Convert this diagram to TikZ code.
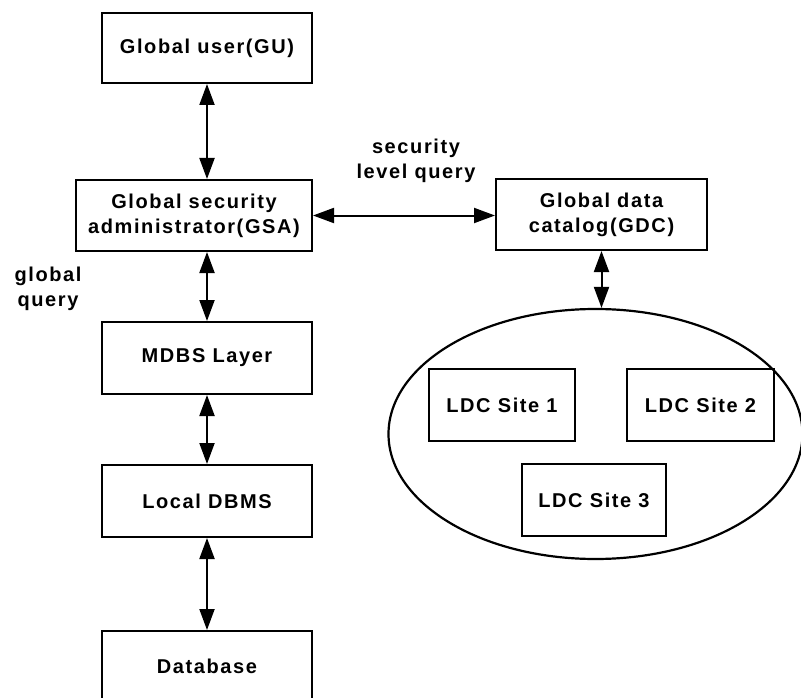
\documentclass[tikz,border=0pt]{standalone}
\usepackage{fontspec}
\setmainfont{Liberation Sans}[LetterSpace=8]
\usetikzlibrary{arrows.meta,shapes.geometric}
\begin{document}
\begin{tikzpicture}[x=1pt,y=-1pt,
  txt/.style={font=\bfseries\fontsize{20}{25}\selectfont,align=center,inner sep=0pt},
  box/.style={txt,draw,line width=2pt},
  link/.style={line width=2pt,{Triangle[length=21pt,width=15pt]}-{Triangle[length=21pt,width=15pt]}}]
\useasboundingbox (0,0) rectangle (801,698);
\clip (0,0) rectangle (801,698);

% left column: query path down to the data
\node[box,minimum width=210pt,minimum height=70pt] (gu)  at (207,48)    {Global user(GU)};
\node[box,minimum width=236pt,minimum height=71pt] (gsa) at (194,215.5) {Global security\\administrator(GSA)};
\node[box,minimum width=210pt,minimum height=72pt] (mdbs) at (207,358)  {MDBS Layer};
\node[box,minimum width=210pt,minimum height=72pt] (ldbms) at (207,501) {Local DBMS};
\node[box,minimum width=210pt,minimum height=71pt] (db)  at (207,666.5) {Database};

% right side: catalogs
\node[box,minimum width=211pt,minimum height=71pt] (gdc) at (601.5,214.5) {Global data\\catalog(GDC)};
\node[draw,ellipse,line width=2.2pt,minimum width=414pt,minimum height=250pt,inner sep=0pt] (ldc) at (595.5,434) {};
\node[box,minimum width=146pt,minimum height=72pt] (s1) at (502,405)   {LDC Site 1};
\node[box,minimum width=147pt,minimum height=72pt] (s2) at (700.5,405) {LDC Site 2};
\node[box,minimum width=144pt,minimum height=72pt] (s3) at (594,500)   {LDC Site 3};

% labels
\node[txt] (slq) at (416,161) {security\\level query};
\node[txt] (gq)  at (48,289)  {global\\query};

% connectors
\draw[link] (gu.south) -- (gu.south |- gsa.north);
\draw[link] (mdbs.north |- gsa.south) -- (mdbs.north);
\draw[link] (mdbs.south) -- (ldbms.north);
\draw[link] (ldbms.south) -- (db.north);
\draw[link] (gsa.east) -- (gsa.east -| gdc.west);
\draw[link] (gdc.south) -- (gdc.south |- ldc.north);
\end{tikzpicture}
\end{document}
